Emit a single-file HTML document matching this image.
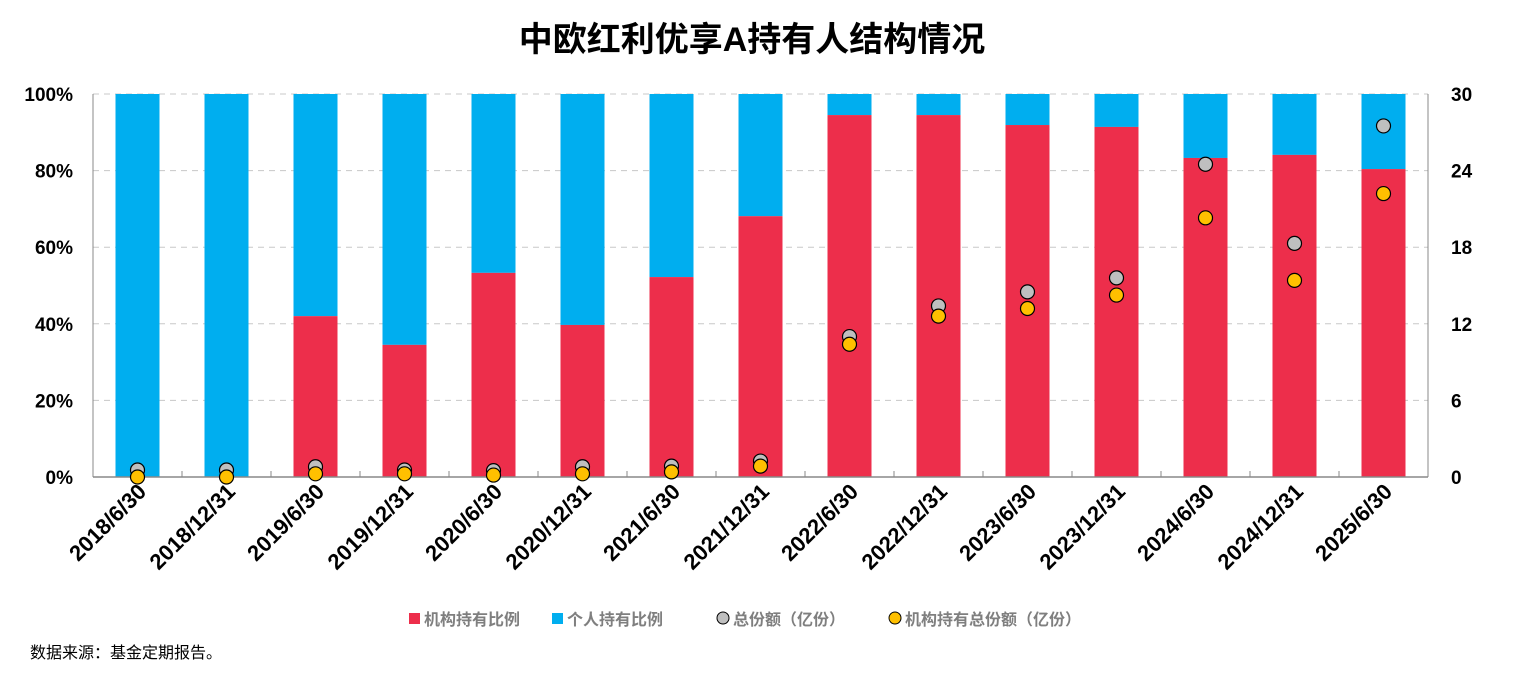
<!DOCTYPE html>
<html><head><meta charset="utf-8">
<style>
body{margin:0;background:#fff;width:1516px;height:674px;overflow:hidden;font-family:"Liberation Sans","Noto Sans CJK SC",sans-serif;}
</style></head>
<body>
<svg id="chart" width="1516" height="674" xmlns="http://www.w3.org/2000/svg" font-family="'Liberation Sans','Noto Sans CJK SC',sans-serif">
<text x="752" y="51" text-anchor="middle" font-size="34" font-weight="bold" fill="#000">中欧红利优享A持有人结构情况</text>
<g id="grid"></g><g id="bars"></g><g id="axes"></g><g id="dots"></g>
<g font-size="16" font-weight="bold" fill="#7f7f7f">
<rect x="409" y="613" width="11" height="11" fill="#ED2E4B"/>
<text x="424" y="625">机构持有比例</text>
<rect x="552" y="613" width="11" height="11" fill="#00AEEF"/>
<text x="567" y="625">个人持有比例</text>
<circle cx="723" cy="618" r="6" fill="#BFBFBF" stroke="#000" stroke-width="1"/>
<text x="733" y="625">总份额（亿份）</text>
<circle cx="895" cy="618" r="6" fill="#FFC000" stroke="#000" stroke-width="1"/>
<text x="905" y="625">机构持有总份额（亿份）</text>
</g>
<text x="30" y="658" font-size="16" fill="#000">数据来源：基金定期报告。</text>
</svg>
<script>
const categories=["2018/6/30","2018/12/31","2019/6/30","2019/12/31","2020/6/30","2020/12/31","2021/6/30","2021/12/31","2022/6/30","2022/12/31","2023/6/30","2023/12/31","2024/6/30","2024/12/31","2025/6/30"];
const instPct=[0,0,42,34.5,53.3,39.7,52.2,68.1,94.5,94.5,91.9,91.4,83.3,84.1,80.4];
const totalShares=[0.55,0.55,0.8,0.55,0.5,0.8,0.85,1.25,11.0,13.4,14.5,15.6,24.5,18.3,27.5];
const instShares=[0,0,0.25,0.25,0.15,0.25,0.4,0.85,10.4,12.6,13.2,14.25,20.3,15.4,22.2];
const leftTicks=[0,20,40,60,80,100];
const rightTicks=[0,6,12,18,24,30];
const NS="http://www.w3.org/2000/svg";
const X0=93,X1=1428,Y0=477,Y1=94;
const step=(X1-X0)/categories.length,bw=44;
const xC=i=>X0+step*(i+0.5);
const yL=v=>Y0-(v/100)*(Y0-Y1);
const yR=v=>Y0-(v/30)*(Y0-Y1);
function mk(tag,parent,attrs){const e=document.createElementNS(NS,tag);for(const k in attrs)e.setAttribute(k,attrs[k]);document.getElementById(parent).appendChild(e);return e;}
leftTicks.forEach((t,i)=>{
  if(t>0){const g=mk('line','grid',{x1:X0,x2:X1,y1:yL(t),y2:yL(t),stroke:'#c8c8c8','stroke-dasharray':'6,5','stroke-width':1});
  
  }
  const l=mk('text','axes',{x:X0-20,y:yL(t)+7,'text-anchor':'end','font-size':19,'font-weight':'bold'});l.textContent=t+'%';
  
  
});
rightTicks.forEach(t=>{
  const l=mk('text','axes',{x:X1+23,y:yR(t)+7,'text-anchor':'start','font-size':19,'font-weight':'bold'});l.textContent=t;
  
  
});
const ax=mk('line','axes',{x1:X0,x2:X0,y1:Y1,y2:Y0,stroke:'#888'});


const ax2=mk('line','axes',{x1:X1,x2:X1,y1:Y1,y2:Y0,stroke:'#888'});


const ax3=mk('line','axes',{x1:X0,x2:X1,y1:Y0,y2:Y0,stroke:'#888','stroke-width':1.5});


categories.forEach((c,i)=>{
  const x=xC(i);
  const b1=mk('rect','bars',{x:x-bw/2,y:yL(100),width:bw,height:yL(instPct[i])-yL(100),fill:'#00AEEF'});
  
  
  const b2=mk('rect','bars',{x:x-bw/2,y:yL(instPct[i]),width:bw,height:Y0-yL(instPct[i]),fill:'#ED2E4B'});
  
  
  const d1=mk('circle','dots',{cx:x,cy:yR(totalShares[i]),r:7,fill:'#BFBFBF',stroke:'#000','stroke-width':1.2});
  
  
  const d2=mk('circle','dots',{cx:x,cy:yR(instShares[i]),r:7,fill:'#FFC000',stroke:'#000','stroke-width':1.2});
  
  
  const tk=mk('line','axes',{x1:X0+step*i,x2:X0+step*i,y1:Y0,y2:Y0-6,stroke:'#888'});
  
  
  const l=mk('text','axes',{x:x+10,y:Y0+16,'text-anchor':'end','font-size':22,'font-weight':'bold',transform:`rotate(-45 ${x+10} ${Y0+16})`});
  l.textContent=c;
  
  
});
</script>
</body></html>
